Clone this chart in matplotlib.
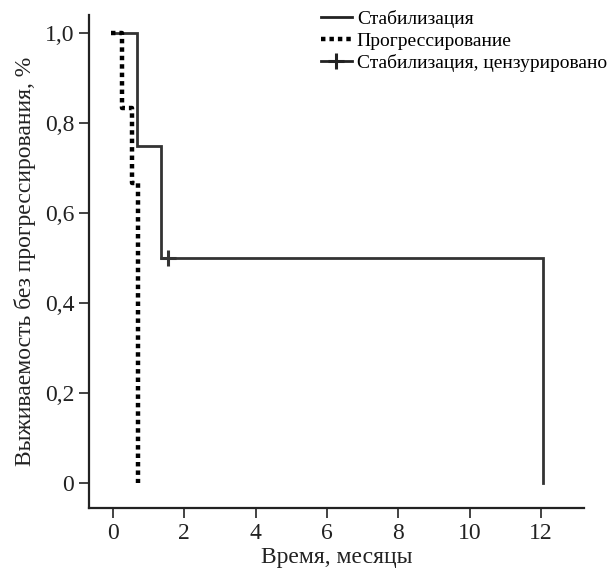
import matplotlib.pyplot as plt
from matplotlib.lines import Line2D

plt.rcParams['font.family'] = ['Liberation Serif', 'DejaVu Serif']

# Kaplan-Meier steps
stab_t = [0.0, 0.67, 1.35, 12.05]
stab_s = [1.0, 0.75, 0.5, 0.0]
prog_t = [-0.05, 0.25, 0.53, 0.7]
prog_s = [1.0, 0.833, 0.667, 0.0]
cens_t = [1.55]
cens_s = [0.5]

xticks = [0, 2, 4, 6, 8, 10, 12]
yticks = [0, 0.2, 0.4, 0.6, 0.8, 1.0]
ylabels = ['0', '0,2', '0,4', '0,6', '0,8', '1,0']


def steps(t, s):
    xs, ys = [t[0]], [s[0]]
    for i in range(1, len(t)):
        xs += [t[i], t[i]]
        ys += [s[i - 1], s[i]]
    return xs, ys


fig = plt.figure(figsize=(6.09, 5.71), dpi=100)
ax = fig.add_axes([0.146, 0.11, 0.813, 0.864])

x, y = steps(stab_t, stab_s)
ax.plot(x, y, color='#333333', lw=2.0, solid_joinstyle='miter')
x, y = steps(prog_t, prog_s)
ax.plot(x, y, color='black', lw=3.2, linestyle=(0, (1.0, 0.9)))
ax.plot(cens_t, cens_s, marker='+', ms=12, mew=2.2, color='#333333', ls='none')

ax.set_xlim(-0.67, 13.2)
ax.set_ylim(-0.055, 1.04)
ax.set_xticks(xticks)
ax.set_yticks(yticks)
ax.set_yticklabels(ylabels)
ax.tick_params(direction='out', length=7, width=1.2, labelsize=17, colors='#222222')
for s in ['top', 'right']:
    ax.spines[s].set_visible(False)
for s in ['left', 'bottom']:
    ax.spines[s].set_linewidth(1.6)
    ax.spines[s].set_color('#222222')

ax.set_xlabel('Время, месяцы', fontsize=17, color='#222222', labelpad=2)
ax.set_ylabel('Выживаемость без прогрессирования, %', fontsize=17, color='#222222', labelpad=6)

handles = [
    Line2D([], [], color='#222222', lw=2.0),
    Line2D([], [], color='black', lw=3.2, linestyle=(0, (1.0, 0.9))),
    Line2D([], [], color='#222222', lw=2.0, marker='+', ms=12, mew=2.2),
]
ax.legend(handles, ['Стабилизация', 'Прогрессирование', 'Стабилизация, цензурировано'],
          loc='upper right', bbox_to_anchor=(1.062, 1.025), frameon=False, fontsize=14,
          handlelength=1.6, handletextpad=0.25, labelspacing=0.2, borderaxespad=0)

fig.savefig('out.png', dpi=100)
